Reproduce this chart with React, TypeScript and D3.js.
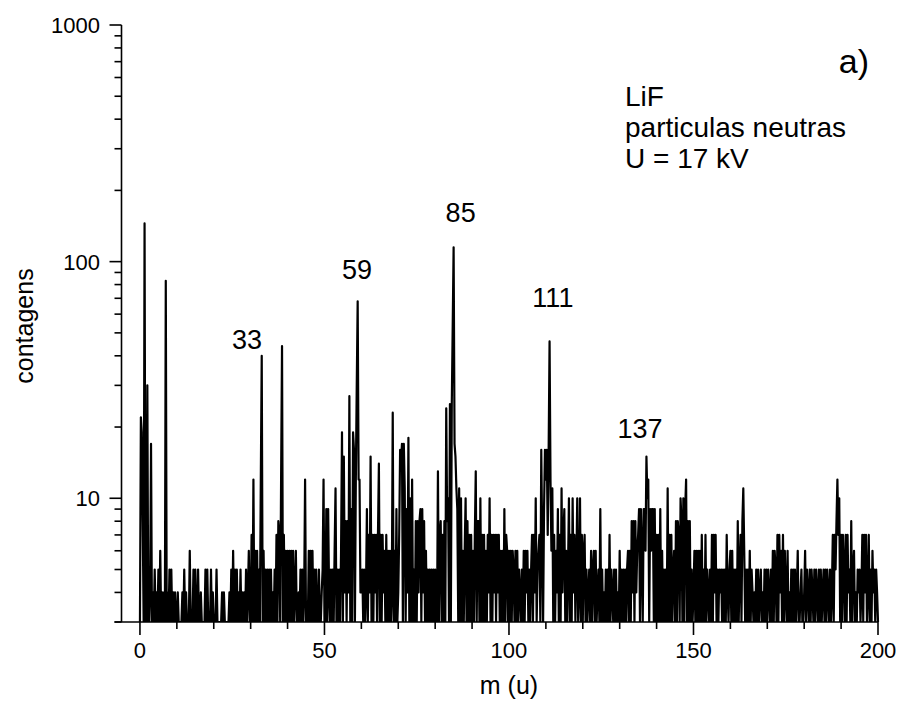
import React from "react";
import * as d3 from "d3";

// ---- data: counts sampled every 0.25 u, from m = 0 to m = 200 ----
const massStep = 0.25;
const counts000 = [1,22,19,8,2,145,3,2,30,2,1,4,17,2,4,1,5,2,4,2,5,2,6,2,4,1,4,2,83,2,4,1,5,2,5,1,4,2,4,1];
const counts010 = [2,4,1,0,0,0,4,0,5,0,4,0,0,0,6,0,0,0,5,0,5,0,0,5,0,0,4,0,0,0,0,5,0,5,0,0,0,5,0,4];
const counts020 = [0,0,0,5,0,0,0,0,0,4,0,4,0,0,0,0,0,4,1,5,2,6,2,5,1,5,2,4,1,5,2,4,1,4,2,5,2,4,6,2];
const counts030 = [2,7,2,12,2,6,2,6,1,5,2,12,40,2,6,1,5,2,5,1,5,2,5,2,4,1,5,2,7,2,8,7,2,12,44,2,7,2,6,2];
const counts040 = [6,2,6,1,6,2,6,2,4,6,2,1,4,2,5,1,5,1,4,12,2,2,1,6,2,6,1,6,2,5,2,5,2,1,5,2,2,4,5,12,2];
const counts050 = [2,9,2,9,4,2,5,2,5,1,6,11,2,5,2,5,2,6,19,2,15,4,8,2,8,4,27,2,9,2,19,16,2,12,30,68,12,12,4,4];
const counts060 = [5,2,5,2,4,9,2,7,4,15,2,7,2,7,4,7,2,7,14,2,7,2,7,4,6,2,7,2,6,2,6,2,4,23,2,6,2,9,2,4];
const counts070 = [7,16,14,17,2,17,11,2,9,4,18,2,10,2,12,2,5,2,8,2,8,4,8,9,2,9,4,8,2,6,2,5,2,5,2,5,1,5,2,5,2];
const counts080 = [2,13,2,7,8,2,7,2,8,2,24,8,10,2,25,2,25,53,115,17,15,11,9,2,11,2,10,2,6,2,6,10,2,8,2,7,2,7,2,6];
const counts090 = [2,7,13,2,8,8,2,10,2,7,2,7,2,6,2,7,4,10,2,7,2,7,4,7,2,7,4,7,2,6,2,6,2,9,2,7,6,2,6,2];
const counts100 = [6,2,6,5,2,6,2,6,2,5,4,2,5,2,6,2,6,4,6,2,5,2,5,7,2,7,4,10,2,5,6,7,2,16,7,2,9,16,12,16];
const counts110 = [7,16,46,12,6,11,2,7,2,6,4,9,2,7,2,11,4,7,9,2,6,2,5,10,2,7,2,10,4,7,2,5,10,2,4,10,2,7,2,6];
const counts120 = [7,2,5,2,4,5,2,6,2,5,6,2,6,2,4,5,2,9,2,5,2,4,1,5,2,5,2,7,2,5,4,2,5,2,5,1,4,2,6,2,5];
const counts130 = [2,5,2,5,2,5,6,2,6,2,8,4,8,2,8,4,6,7,9,2,9,6,2,9,9,6,15,10,12,2,9,6,9,9,2,9,2,7,2,7];
const counts140 = [2,9,2,6,2,5,2,5,2,11,2,7,2,7,2,5,6,2,8,2,8,7,2,10,8,2,10,2,9,12,2,8,2,8,2,5,2,4,6,2];
const counts150 = [6,2,6,2,6,2,7,2,5,2,7,2,5,4,2,5,2,7,2,7,4,7,2,5,2,5,4,5,2,5,2,5,2,7,4,2,5,6,2,6];
const counts160 = [2,5,2,5,2,8,2,5,7,2,8,11,6,2,5,2,5,2,6,2,5,4,2,4,2,5,2,5,2,4,5,2,4,2,5,2,5,2,5,4,2];
const counts170 = [5,2,6,2,6,5,2,7,2,7,4,6,2,7,2,6,4,2,6,2,4,2,5,2,5,2,5,2,4,6,2,2,4,5,2,2,4,6,2,5];
const counts180 = [4,2,5,2,5,4,2,5,2,5,4,2,5,2,5,2,4,5,2,5,2,5,4,2,5,2,4,7,2,7,5,8,12,7,10,2,7,2,7,5];
const counts190 = [2,7,2,7,4,5,2,8,2,5,6,2,4,2,5,4,5,2,4,7,2,7,4,7,2,4,7,2,5,2,6,4,5,2,5,4,2];

const counts: number[] = [
  counts000, counts010, counts020, counts030, counts040, counts050, counts060,
  counts070, counts080, counts090, counts100, counts110, counts120, counts130,
  counts140, counts150, counts160, counts170, counts180, counts190,
].flat();

// ---- axes ----
const xTickValues = [0, 50, 100, 150, 200];
const xMinorTickValues = [10, 20, 30, 40, 60, 70, 80, 90, 110, 120, 130, 140, 160, 170, 180, 190];
const yTickValues = [10, 100, 1000];

// ---- annotations ----
const peakLabels = ["33", "59", "85", "111", "137"];
const peakLabelMass = [29, 58.8, 86.9, 111.9, 135.5];
const peakLabelCount = [47, 93, 161, 71, 19.7];
const infoLines = ["LiF", "particulas neutras", "U = 17 kV"];

const FONT = "'Liberation Sans', Arial, Helvetica, sans-serif";

export default function App() {
  const W = 900, H = 702;
  const x = d3.scaleLinear().domain([-5, 200]).range([121.5, 878]);
  const y = d3.scaleLog().domain([3, 1000]).range([622, 25]);
  const [x0, x1] = x.range();
  const [yb, yt] = y.range();

  const line = d3
    .line<number>()
    .x((_, i) => x(i * massStep))
    .y((v) => y(Math.max(v, 3)));

  const yAll = y.ticks();
  const isMajor = (v: number) => Math.abs(Math.log10(v) - Math.round(Math.log10(v))) < 1e-9;

  return (
    <svg width={W} height={H} style={{ position: "absolute", left: 0, top: 0, background: "#fff" }}
      fontFamily={FONT}>
      <rect width={W} height={H} fill="#fff" />
      <defs>
        <clipPath id="plotclip">
          <rect x={x0} y={yt} width={x1 - x0 + 2} height={yb - yt} />
        </clipPath>
      </defs>
      <path d={line(counts) ?? ""} fill="none" stroke="#000" strokeWidth={2.2}
        strokeLinejoin="round" clipPath="url(#plotclip)" />

      {/* y axis */}
      <line x1={x0} x2={x0} y1={yt} y2={yb} stroke="#000" strokeWidth={1.6} />
      {yAll.map((v) => (
        <line key={"yt" + v} x1={x0 - (isMajor(v) ? 12 : 7)} x2={x0} y1={y(v)} y2={y(v)}
          stroke="#000" strokeWidth={1.6} />
      ))}
      {yTickValues.map((v) => (
        <text key={"yl" + v} x={100} y={y(v)} dy="0.36em" textAnchor="end" fontSize={22}>{v}</text>
      ))}

      {/* x axis */}
      <line x1={x0 - 7} x2={x1} y1={yb} y2={yb} stroke="#000" strokeWidth={1.6} />
      {xTickValues.map((v) => (
        <line key={"xt" + v} x1={x(v)} x2={x(v)} y1={yb} y2={yb + 13} stroke="#000" strokeWidth={1.6} />
      ))}
      {xMinorTickValues.map((v) => (
        <line key={"xm" + v} x1={x(v)} x2={x(v)} y1={yb} y2={yb + 7} stroke="#000" strokeWidth={1.6} />
      ))}
      {xTickValues.map((v) => (
        <text key={"xl" + v} x={x(v)} y={658} textAnchor="middle" fontSize={22}>{v}</text>
      ))}

      {/* axis titles */}
      <text x={x(100)} y={694} textAnchor="middle" fontSize={25}>m (u)</text>
      <text transform={`translate(33,${326}) rotate(-90)`} textAnchor="middle" fontSize={25}>contagens</text>

      {/* peak labels */}
      {peakLabels.map((t, i) => (
        <text key={"pk" + t} x={x(peakLabelMass[i])} y={y(peakLabelCount[i])} dy="0.36em"
          textAnchor="middle" fontSize={27}>{t}</text>
      ))}

      {/* panel info */}
      <text x={869} y={73} textAnchor="end" fontSize={34}>a)</text>
      {infoLines.map((t, i) => (
        <text key={"info" + i} x={625} y={106 + i * 31} fontSize={28}>{t}</text>
      ))}
    </svg>
  );
}
